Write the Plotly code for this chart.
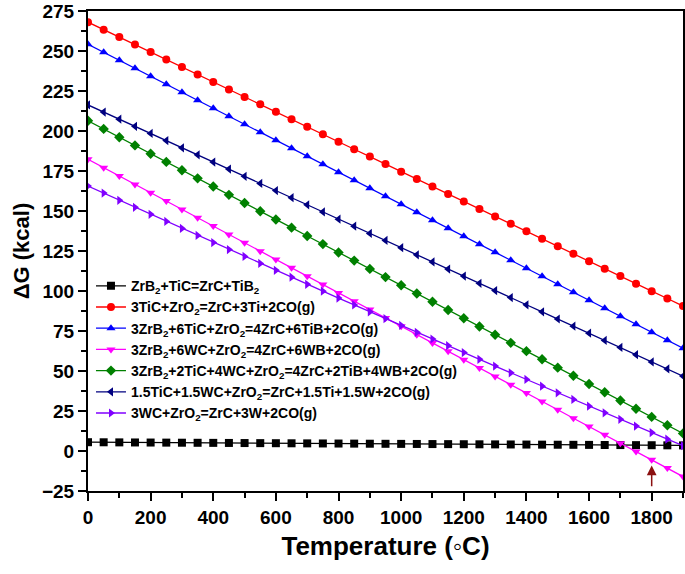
import plotly.graph_objects as go

temperature = [0, 50, 100, 150, 200, 250, 300, 350, 400, 450, 500, 550, 600, 650, 700, 750,
               800, 850, 900, 950, 1000, 1050, 1100, 1150, 1200, 1250, 1300, 1350, 1400, 1450,
               1500, 1550, 1600, 1650, 1700, 1750, 1800, 1850, 1900]

dg_zrb2_tic = [5.50, 5.45, 5.39, 5.34, 5.29, 5.24, 5.18, 5.13, 5.08, 5.03, 4.97, 4.92, 4.87, 4.82,
               4.76, 4.71, 4.66, 4.61, 4.55, 4.50, 4.45, 4.40, 4.34, 4.29, 4.24, 4.18, 4.13, 4.08,
               4.03, 3.97, 3.92, 3.87, 3.82, 3.76, 3.71, 3.66, 3.61, 3.55, 3.50]

dg_tic_zro2 = [268.0, 263.3, 258.7, 254.0, 249.3, 244.7, 240.0, 235.3, 230.7, 226.0, 221.3, 216.7,
               212.0, 207.3, 202.6, 198.0, 193.3, 188.6, 184.0, 179.3, 174.6, 170.0, 165.3, 160.6,
               156.0, 151.3, 146.6, 142.0, 137.3, 132.6, 127.9, 123.3, 118.6, 113.9, 109.3, 104.6,
               99.9, 95.3, 90.6]

dg_zrb2_tic_zro2 = [254.2, 249.2, 244.2, 239.2, 234.2, 229.2, 224.2, 219.2, 214.2, 209.2, 204.2,
                    199.2, 194.2, 189.2, 184.2, 179.2, 174.2, 169.2, 164.2, 159.2, 154.2, 149.2,
                    144.2, 139.2, 134.2, 129.2, 124.2, 119.2, 114.2, 109.2, 104.2, 99.2, 94.2,
                    89.2, 84.2, 79.2, 74.2, 69.2, 64.2]

dg_zrb2_wc_zro2 = [182.3, 177.1, 171.9, 166.6, 161.4, 156.2, 151.0, 145.8, 140.6, 135.3, 130.1,
                   124.9, 119.7, 114.5, 109.2, 104.0, 98.8, 93.6, 88.4, 83.2, 77.9, 72.7, 67.5,
                   62.3, 57.1, 51.8, 46.6, 41.4, 36.2, 31.0, 25.8, 20.5, 15.3, 10.1, 4.9, -0.3,
                   -5.5, -10.7, -16.0]

dg_zrb2_tic_wc_zro2 = [206.4, 201.3, 196.1, 191.0, 185.8, 180.7, 175.5, 170.4, 165.3, 160.1, 155.0,
                       149.8, 144.7, 139.6, 134.4, 129.3, 124.1, 119.0, 113.8, 108.7, 103.6, 98.4,
                       93.3, 88.1, 83.0, 77.8, 72.7, 67.6, 62.4, 57.3, 52.1, 47.0, 41.9, 36.7,
                       31.6, 26.4, 21.3, 16.1, 11.0]

dg_tic_wc_zro2 = [216.3, 211.8, 207.4, 202.9, 198.5, 194.0, 189.5, 185.1, 180.6, 176.2, 171.7,
                  167.2, 162.8, 158.3, 153.9, 149.4, 144.9, 140.5, 136.0, 131.6, 127.1, 122.6,
                  118.2, 113.7, 109.3, 104.8, 100.3, 95.9, 91.4, 87.0, 82.5, 78.0, 73.6, 69.1,
                  64.7, 60.2, 55.7, 51.3, 46.8]

dg_wc_zro2 = [165.6, 161.2, 156.7, 152.3, 147.9, 143.5, 139.1, 134.7, 130.3, 125.9, 121.6, 117.2,
              112.9, 108.6, 104.2, 99.9, 95.6, 91.3, 87.0, 82.8, 78.5, 74.2, 70.0, 65.8, 61.5,
              57.3, 53.1, 48.9, 44.7, 40.5, 36.4, 32.2, 28.0, 23.9, 19.8, 15.6, 11.5, 7.4, 3.3]

series_names = [
    "ZrB<sub>2</sub>+TiC=ZrC+TiB<sub>2</sub>",
    "3TiC+ZrO<sub>2</sub>=ZrC+3Ti+2CO(g)",
    "3ZrB<sub>2</sub>+6TiC+ZrO<sub>2</sub>=4ZrC+6TiB+2CO(g)",
    "3ZrB<sub>2</sub>+6WC+ZrO<sub>2</sub>=4ZrC+6WB+2CO(g)",
    "3ZrB<sub>2</sub>+2TiC+4WC+ZrO<sub>2</sub>=4ZrC+2TiB+4WB+2CO(g)",
    "1.5TiC+1.5WC+ZrO<sub>2</sub>=ZrC+1.5Ti+1.5W+2CO(g)",
    "3WC+ZrO<sub>2</sub>=ZrC+3W+2CO(g)",
]
series_values = [dg_zrb2_tic, dg_tic_zro2, dg_zrb2_tic_zro2, dg_zrb2_wc_zro2,
                 dg_zrb2_tic_wc_zro2, dg_tic_wc_zro2, dg_wc_zro2]
colors = ["#000000", "#FF0000", "#0000FF", "#FF00FF", "#008000", "#000080", "#8000FF"]
symbols = ["square", "circle", "triangle-up", "triangle-down", "diamond", "triangle-left",
           "triangle-right"]

arrow_x = 1800
arrow_tip_y = -9
arrow_tail_y = -23

FONT = "Liberation Sans, Arial, Helvetica, sans-serif"

fig = go.Figure()
for name, vals, col, sym in zip(series_names, series_values, colors, symbols):
    fig.add_trace(go.Scatter(
        x=temperature, y=vals, name=name, mode="lines+markers",
        line=dict(color=col, width=1.3),
        marker=dict(symbol=sym, size=8, color=col, line=dict(width=0)),
    ))

fig.add_annotation(
    x=arrow_x, y=arrow_tip_y, ax=arrow_x, ay=arrow_tail_y,
    xref="x", yref="y", axref="x", ayref="y",
    showarrow=True, arrowhead=2, arrowsize=1.3, arrowwidth=1.5, arrowcolor="#8B1010", text="",
)

axis_common = dict(
    showline=True, linecolor="black", linewidth=2, mirror=True,
    ticks="outside", ticklen=8, tickwidth=2, tickcolor="black",
    showgrid=False, zeroline=False, automargin=False,
    tickfont=dict(family=FONT, size=19, color="black", weight="bold"),
)

fig.update_xaxes(
    range=[0, 1900], tick0=0, dtick=200,
    minor=dict(ticks="outside", ticklen=5, tickwidth=2, tickcolor="black", dtick=100),
    title=dict(text="Temperature (\u25e6C)", font=dict(family=FONT, size=26, color="black", weight="bold"),
               standoff=10),
    **axis_common,
)
fig.update_yaxes(
    range=[-25, 275], tick0=0, dtick=25,
    minor=dict(ticks="outside", ticklen=5, tickwidth=2, tickcolor="black", dtick=12.5),
    title=dict(text="\u0394G (kcal)", font=dict(family=FONT, size=22, color="black", weight="bold"),
               standoff=6),
    **axis_common,
)

fig.update_layout(
    width=685, height=574,
    margin=dict(l=88, r=2, t=11, b=83),
    plot_bgcolor="white", paper_bgcolor="white",
    font=dict(family=FONT, color="black"),
    hovermode=False,
    legend=dict(
        x=0.005, y=0.46, xanchor="left", yanchor="top",
        bgcolor="rgba(0,0,0,0)", borderwidth=0,
        font=dict(family=FONT, size=14, color="black", weight="bold"),
        itemwidth=30,
    ),
)

fig.write_html(
    "out.html",
    config={"displayModeBar": False},
    post_script="document.body.style.margin='0';document.body.style.padding='0';"
                "document.body.style.overflow='hidden';",
)
